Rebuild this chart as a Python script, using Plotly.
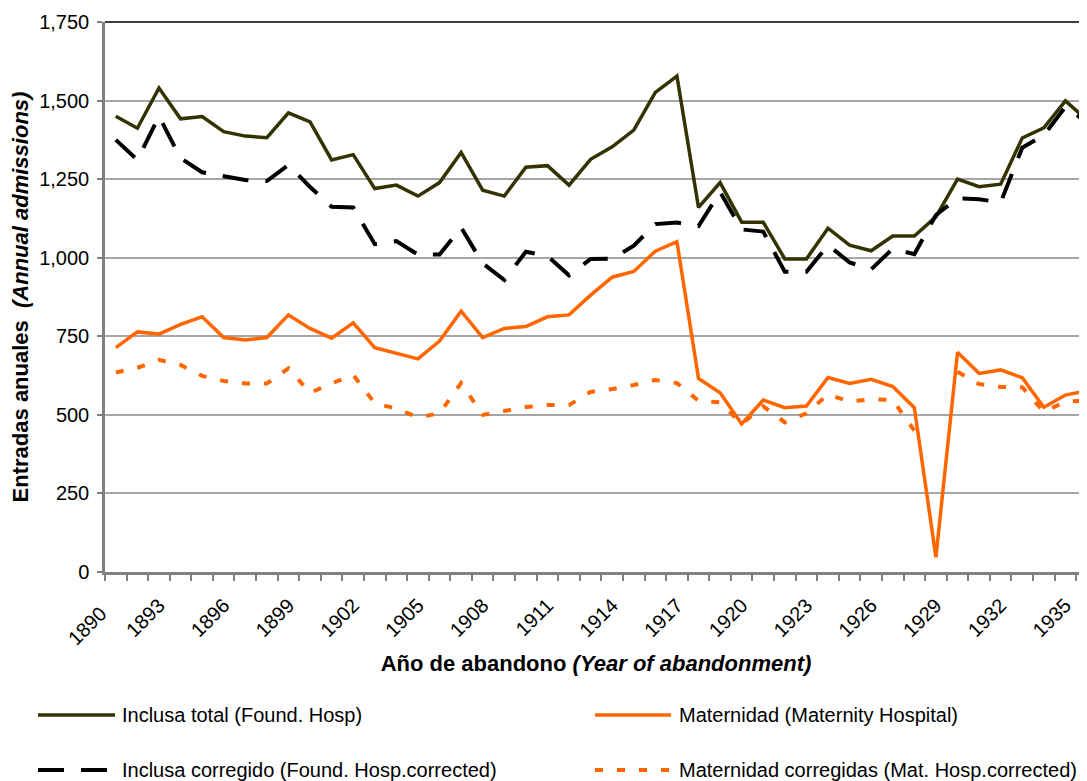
import plotly.graph_objects as go

# ---------------- data ----------------
years = list(range(1891, 1937))

inclusa_total = [1450, 1412, 1540, 1442, 1449, 1401, 1387, 1382, 1461, 1432,
                 1311, 1328, 1220, 1231, 1196, 1239, 1335, 1215, 1196, 1288,
                 1293, 1231, 1313, 1353, 1406, 1526, 1578, 1160, 1239, 1113,
                 1113, 996, 996, 1094, 1040, 1022, 1069, 1069, 1130, 1250,
                 1226, 1234, 1381, 1413, 1499, 1438]

inclusa_corregido = [1375, 1311, 1450, 1317, 1272, 1258, 1247, 1244, 1295, 1225,
                     1162, 1160, 1043, 1053, 1010, 1010, 1096, 982, 929, 1019,
                     1005, 944, 996, 997, 1038, 1107, 1112, 1101, 1209, 1090,
                     1083, 955, 955, 1040, 985, 963, 1029, 1011, 1136, 1189,
                     1186, 1176, 1350, 1390, 1480, 1430]

maternidad = [714, 764, 757, 788, 812, 746, 738, 746, 818, 775,
              744, 793, 714, 696, 678, 735, 830, 746, 775, 781,
              812, 818, 881, 938, 956, 1021, 1051, 616, 570, 471,
              547, 523, 528, 619, 600, 613, 590, 523, 47, 699,
              632, 643, 618, 524, 563, 577]

maternidad_corregidas = [635, 650, 675, 659, 624, 608, 600, 600, 648, 570,
                         600, 627, 537, 520, 492, 505, 601, 500, 512, 525,
                         531, 531, 573, 582, 595, 611, 601, 545, 540, 471,
                         527, 476, 505, 565, 542, 550, 547, 450, None, 637,
                         598, 589, 588, 510, 542, 545]

tick_years = list(range(1890, 1936, 3))
y_ticks = list(range(0, 1751, 250))

series_names = ["Inclusa total (Found. Hosp)",
                "Maternidad (Maternity Hospital)",
                "Inclusa corregido (Found. Hosp.corrected)",
                "Maternidad corregidas (Mat. Hosp.corrected)"]

x_title = "<b>Año de abandono <i>(Year of abandonment)</i></b>"
y_title = "<b>Entradas anuales&nbsp;&nbsp;<i>(Annual admissions)</i></b>"

# ---------------- style ----------------
FONT = "Liberation Sans, Arial, sans-serif"
OLIVE = "#333300"
ORANGE = "#FF6600"
BLACK = "#000000"
AXIS = "#808080"
GRID = "#a6a6a6"

# the page body adds an 8px margin: size the figure so it fits the window
OFF = 8
W, H = 1087 - OFF, 781 - OFF
# plot area in reference-picture pixels: left 105, top 22, right 1087, bottom 572
ML, MT = 105 - OFF, 22 - OFF
MR = 0
MB = H - (572 - OFF)
PW, PH = W - ML - MR, H - MT - MB


def px2x(px):
    """reference-picture pixel x -> paper x"""
    return (px - OFF - ML) / PW


def py2y(py):
    """reference-picture pixel y -> paper y"""
    return (H - MB - (py - OFF)) / PH


styles = [
    dict(color=OLIVE, width=3.5, dash="solid"),
    dict(color=ORANGE, width=3.5, dash="solid"),
    dict(color=BLACK, width=4, dash="26px,17px"),
    dict(color=ORANGE, width=4, dash="8px,14px"),
]
values = [inclusa_total, maternidad, inclusa_corregido, maternidad_corregidas]

fig = go.Figure()
for name, vals, st in zip(series_names, values, styles):
    fig.add_trace(go.Scatter(x=years, y=vals, mode="lines", name=name,
                             line=st, connectgaps=False, showlegend=False))

fig.update_layout(
    width=W, height=H,
    margin=dict(l=ML, r=MR, t=MT, b=MB, pad=0),
    paper_bgcolor="white", plot_bgcolor="white",
    font=dict(family=FONT, size=20, color="black"),
    showlegend=False,
)

fig.update_xaxes(
    range=[1890.5, 1936],
    tickmode="array", tickvals=tick_years, ticktext=[str(t) for t in tick_years],
    tickangle=-45, ticks="", ticklabelstandoff=11,
    tickfont=dict(size=20, family=FONT, color="black"),
    showgrid=False, zeroline=False,
    showline=True, linecolor=AXIS, linewidth=2.5,
    minor=dict(tickmode="linear", tick0=1890.5, dtick=1, ticks="outside",
               ticklen=6, tickwidth=1.5, tickcolor=AXIS, showgrid=False),
    title=dict(text=x_title, font=dict(size=22, family=FONT, color="black"),
               standoff=16),
)

fig.update_yaxes(
    range=[0, 1750], tickmode="array", tickvals=y_ticks,
    tickformat=",", ticks="outside", ticklen=5, tickwidth=1.5, tickcolor=AXIS,
    ticklabelstandoff=4,
    tickfont=dict(size=20, family=FONT, color="black"),
    showgrid=True, gridcolor=GRID, gridwidth=1.5, zeroline=False,
    showline=True, linecolor=AXIS, linewidth=2.5,
    title=dict(text=y_title, font=dict(size=22, family=FONT, color="black"),
               standoff=6),
)

# top border of the plot area
fig.add_shape(type="line", xref="paper", yref="paper", x0=0, x1=1, y0=1, y1=1,
              line=dict(color="black", width=1.5))

# first category label, which sits left of the plot area
fig.add_annotation(xref="paper", yref="paper", x=px2x(87), y=py2y(626),
                   text=str(tick_years[0]), showarrow=False, textangle=-45,
                   xanchor="center", yanchor="middle",
                   font=dict(size=20, family=FONT, color="black"))

# legend (two columns, two rows), positions in reference pixels
legend_pos = [(38, 115, 120, 715), (595, 671, 677, 715),
              (38, 107, 120, 770), (595, 671, 677, 770)]
for name, st, (lx0, lx1, tx, ly) in zip(series_names, styles, legend_pos):
    fig.add_shape(type="line", xref="paper", yref="paper",
                  x0=px2x(lx0), x1=px2x(lx1), y0=py2y(ly), y1=py2y(ly),
                  line=dict(color=st["color"], width=st["width"], dash=st["dash"]))
    fig.add_annotation(xref="paper", yref="paper", x=px2x(tx), y=py2y(ly),
                       text=name, showarrow=False, xanchor="left", yanchor="middle",
                       font=dict(size=20, family=FONT, color="black"))

fig.write_html("out.html")
